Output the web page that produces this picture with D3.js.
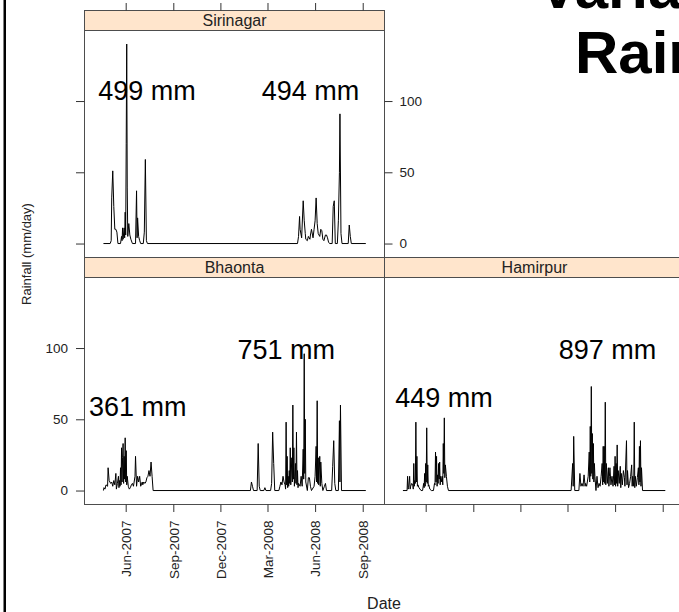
<!DOCTYPE html>
<html>
<head>
<meta charset="utf-8">
<script src="https://cdn.jsdelivr.net/npm/d3@7"></script>
<style>
  html, body { margin: 0; padding: 0; background: #fff; }
  svg { display: block; }
  text { font-family: "Liberation Sans", Arial, sans-serif; }
</style>
</head>
<body>
<svg id="chart" width="679" height="612"></svg>
<script>
/* daily rainfall (mm/day), days counted from 1 Jun 2007 */
const stationNames = ["Sirinagar", "Bhaonta", "Hamirpur"];

const sirinagarDays = [-43,-30,-28,-27,-25,-23,-21,-19,-17,-15,-10,-8,-7,-6,-5,-3,-2,-1,0,1,2,3,4,6,8,10,13,19,21,22,23,25,27,29,34,36,38,40,42,
  332,334,336,337,340,343,345,347,348,351,353,356,357,359,362,364,366,368,370,372,375,377,379,381,383,386,388,390,392,394,
  399,401,403,405,409,411,413,414,416,418,430,432,434,436,464];
const sirinagarRain = [0,0,2,32,51,26,10,10,8,0,0,5,2,11,3,11,4,22,6,70,140,39,5,14,6,3,0,0,37,4,18,5,2,0,0,8,59,2,0,
  0,5,19,10,4,30,16,7,3,2,5,3,6,10,4,10,16,32,14,7,5,10,9,3,2,6,6,4,1,0,
  0,26,30,0,0,16,50,91,7,0,0,13,5,0,0];

const bhaontaDays = [-43,-42,-40,-38,-35,-34,-32,-29,-27,-25,-23,-21,-19,-18,-16,-14,-13,-12,-11,-10,-9,-8,-7,-6,-5,-4,-3,-2,-1,0,
  1,2,3,5,7,9,11,13,15,18,19,21,23,25,27,29,32,33,35,37,39,41,43,45,47,49,51,53,
  241,243,245,247,254,256,258,260,267,269,271,280,282,284,286,288,296,298,300,302,304,306,308,309,310,311,312,313,314,315,
  316,317,318,319,321,322,323,324,325,326,327,328,329,330,331,332,333,334,337,339,341,343,344,345,346,347,348,351,353,355,
  357,359,364,366,368,369,370,371,372,373,375,376,377,379,381,384,386,388,398,400,402,404,406,411,413,414,415,417,464];
const bhaontaRain = [0,2,1,4,3,16,7,5,6,3,7,4,12,1,5,10,2,7,3,16,4,30,6,23,33,5,24,8,37,6,
  28,4,10,3,1,2,4,5,3,10,24,3,10,6,10,3,6,4,6,5,6,9,10,14,10,20,10,0,
  0,6,3,0,0,33,3,0,0,2,0,0,5,41,19,0,0,3,6,4,10,6,4,1,48,4,24,2,10,3,
  14,5,30,4,23,6,60,8,30,3,10,19,5,41,4,14,2,5,3,10,3,29,8,96,12,50,6,0,9,9,
  3,0,3,10,31,6,63,5,23,4,24,3,20,5,0,3,5,0,0,17,35,5,0,0,49,6,60,0,0];

const hamirpurDays = [-44,-36,-35,-34,-33,-31,-30,-29,-27,-25,-24,-23,-22,-21,-20,-19,-18,-17,-16,-15,
  -13,-9,-6,-4,-3,-2,-1,0,1,2,3,4,5,6,8,11,15,17,18,19,20,21,22,23,24,25,26,27,28,29,31,32,33,34,35,36,37,38,40,42,44,
  281,284,285,286,288,296,298,300,302,304,306,308,309,311,314,316,317,318,319,320,
  321,322,323,324,325,326,327,329,331,333,335,337,339,341,342,343,344,345,346,347,
  348,349,351,353,354,355,356,358,360,362,364,365,366,367,368,369,370,371,372,374,
  376,377,378,380,382,384,385,388,389,390,392,394,396,398,399,400,402,403,404,405,
  407,409,411,412,413,414,415,416,417,419,463];
const hamirpurRain = [0,0,10,1,2,10,1,3,5,4,1,19,3,7,5,48,6,24,3,4,
  2,0,0,5,2,12,3,19,6,44,5,18,3,4,1,0,0,5,4,27,6,24,3,11,5,19,8,20,4,10,6,10,4,33,12,51,9,18,10,3,0,
  0,19,3,38,0,0,12,3,5,3,11,3,5,3,10,27,6,45,10,73,
  12,40,8,33,6,19,10,0,10,2,5,3,10,19,4,31,6,31,5,62,
  4,19,5,16,3,10,16,4,10,3,17,4,24,3,19,5,32,3,14,5,
  17,2,12,4,14,9,3,35,4,14,2,5,10,18,3,10,3,48,2,10,
  3,9,16,4,31,6,35,3,16,0,0];

// seasonal totals and where they are written (day, mm/day)
const sirinagarTotals = [499, 494];
const bhaontaTotals = [361, 751];
const hamirpurTotals = [449, 897];
const sirinagarLabelDays = [-53, 263], sirinagarLabelLevels = [101, 101];
const bhaontaLabelDays = [-71, 216], bhaontaLabelLevels = [52, 92.5];
const hamirpurLabelDays = [-59, 257], hamirpurLabelLevels = [58.3, 92.5];

const tickDates = ["2007-06-01", "2007-09-01", "2007-12-01", "2008-03-01", "2008-06-01", "2008-09-01"];
const tickLabels = ["Jun-2007", "Sep-2007", "Dec-2007", "Mar-2008", "Jun-2008", "Sep-2008"];
const rainTicks = [0, 50, 100];

/* layout */
const svg = d3.select("#chart");
const panelW = 300, panelH = 227, stripH = 20;
const colX = [84.5, 384.5];
const rowY = [10.5, 257.5];
const axisCol = "#333", frameCol = "#4d4d4d";

const origin = Date.UTC(2007, 5, 1);
const toDate = d => new Date(origin + d * 864e5);
const parseDay = d3.utcParse("%Y-%m-%d");
const ticks = tickDates.map(parseDay);

const x = d3.scaleUtc().domain([toDate(-79.6), toDate(500.1)]).range([0, panelW]);
const y = d3.scaleLinear().domain([-9.8, 149.5]).range([panelH, 0]);

const line = d3.line()
  .x(d => x(toDate(d.day)))
  .y(d => y(d.rain));

const panels = [
  {name: stationNames[0], col: 0, row: 0, days: sirinagarDays, rain: sirinagarRain,
    totals: sirinagarTotals, ld: sirinagarLabelDays, ll: sirinagarLabelLevels},
  {name: stationNames[1], col: 0, row: 1, days: bhaontaDays, rain: bhaontaRain,
    totals: bhaontaTotals, ld: bhaontaLabelDays, ll: bhaontaLabelLevels},
  {name: stationNames[2], col: 1, row: 1, days: hamirpurDays, rain: hamirpurRain,
    totals: hamirpurTotals, ld: hamirpurLabelDays, ll: hamirpurLabelLevels}
];

// slide frame line on the left
svg.append("rect").attr("x", 3.5).attr("y", 0).attr("width", 2.5).attr("height", 612).attr("fill", "#000");

function styleAxis(g) {
  g.select(".domain").remove();
  g.selectAll(".tick line").attr("stroke", axisCol);
  g.selectAll(".tick text").attr("fill", "#222").style("font-size", "13.5px")
    .style("font-family", '"Liberation Sans", Arial, sans-serif');
}

panels.forEach((p, i) => {
  const g = svg.append("g").attr("transform", `translate(${colX[p.col]},${rowY[p.row]})`);

  // strip
  g.append("rect").attr("width", panelW).attr("height", stripH)
    .attr("fill", "#ffe5cc").attr("stroke", frameCol);
  g.append("text").attr("x", panelW / 2).attr("y", 15.5)
    .attr("text-anchor", "middle").style("font-size", "16px").attr("fill", "#222")
    .text(p.name);

  const body = g.append("g").attr("transform", `translate(0,${stripH})`);
  body.append("clipPath").attr("id", "clip" + i)
    .append("rect").attr("width", panelW).attr("height", panelH);

  const inner = body.append("g").attr("clip-path", `url(#clip${i})`);
  inner.selectAll("text.total").data(p.totals).enter().append("text")
    .attr("class", "total")
    .attr("x", (d, k) => x(toDate(p.ld[k])))
    .attr("y", (d, k) => y(p.ll[k]))
    .style("font-size", "27px").attr("fill", "#000")
    .text(d => d + " mm");

  const pts = p.days.map((d, k) => ({day: d, rain: p.rain[k]}));
  inner.append("path").datum(pts)
    .attr("d", line).attr("fill", "none").attr("stroke", "#000").attr("stroke-width", 1);

  body.append("rect").attr("width", panelW).attr("height", panelH)
    .attr("fill", "none").attr("stroke", frameCol);

  // axes
  if (p.row === 0) {
    g.append("g").call(d3.axisTop(x).tickValues(ticks).tickSize(7.5).tickFormat(""))
      .call(styleAxis);
    body.append("g").call(d3.axisLeft(y).tickValues(rainTicks).tickSize(8.5).tickFormat(""))
      .call(styleAxis);
    body.append("g").attr("transform", `translate(${panelW},0)`)
      .call(d3.axisRight(y).tickValues(rainTicks).tickSize(8).tickPadding(7))
      .call(styleAxis);
  } else {
    if (p.col === 0) {
      body.append("g")
        .call(d3.axisLeft(y).tickValues(rainTicks).tickSize(8.5).tickPadding(8))
        .call(styleAxis);
    }
    const bx = body.append("g").attr("transform", `translate(0,${panelH})`)
      .call(d3.axisBottom(x).tickValues(ticks).tickSize(7.5)
        .tickFormat((d, k) => p.col === 0 ? tickLabels[k] : ""))
      .call(styleAxis);
    bx.selectAll(".tick text")
      .attr("transform", "rotate(-90)")
      .attr("x", -16).attr("y", 0).attr("dy", "0.35em")
      .attr("text-anchor", "end");
  }
});

// axis titles
svg.append("text").attr("x", 384).attr("y", 609)
  .attr("text-anchor", "middle").style("font-size", "16px").attr("fill", "#222")
  .text("Date");
svg.append("text")
  .attr("transform", "translate(31,254) rotate(-90)")
  .attr("text-anchor", "middle").style("font-size", "13px").attr("fill", "#222")
  .text("Rainfall (mm/day)");

// slide title, cut by the page edge
const title = svg.append("g")
  .style("font-family", '"Noto Sans", "Open Sans", sans-serif')
  .style("font-weight", "bold").style("font-size", "60px");
title.append("text").attr("x", 538).attr("y", 8).text("Variation");
title.append("text").attr("x", 575).attr("y", 73).text("Rainfall");
</script>
</body>
</html>
